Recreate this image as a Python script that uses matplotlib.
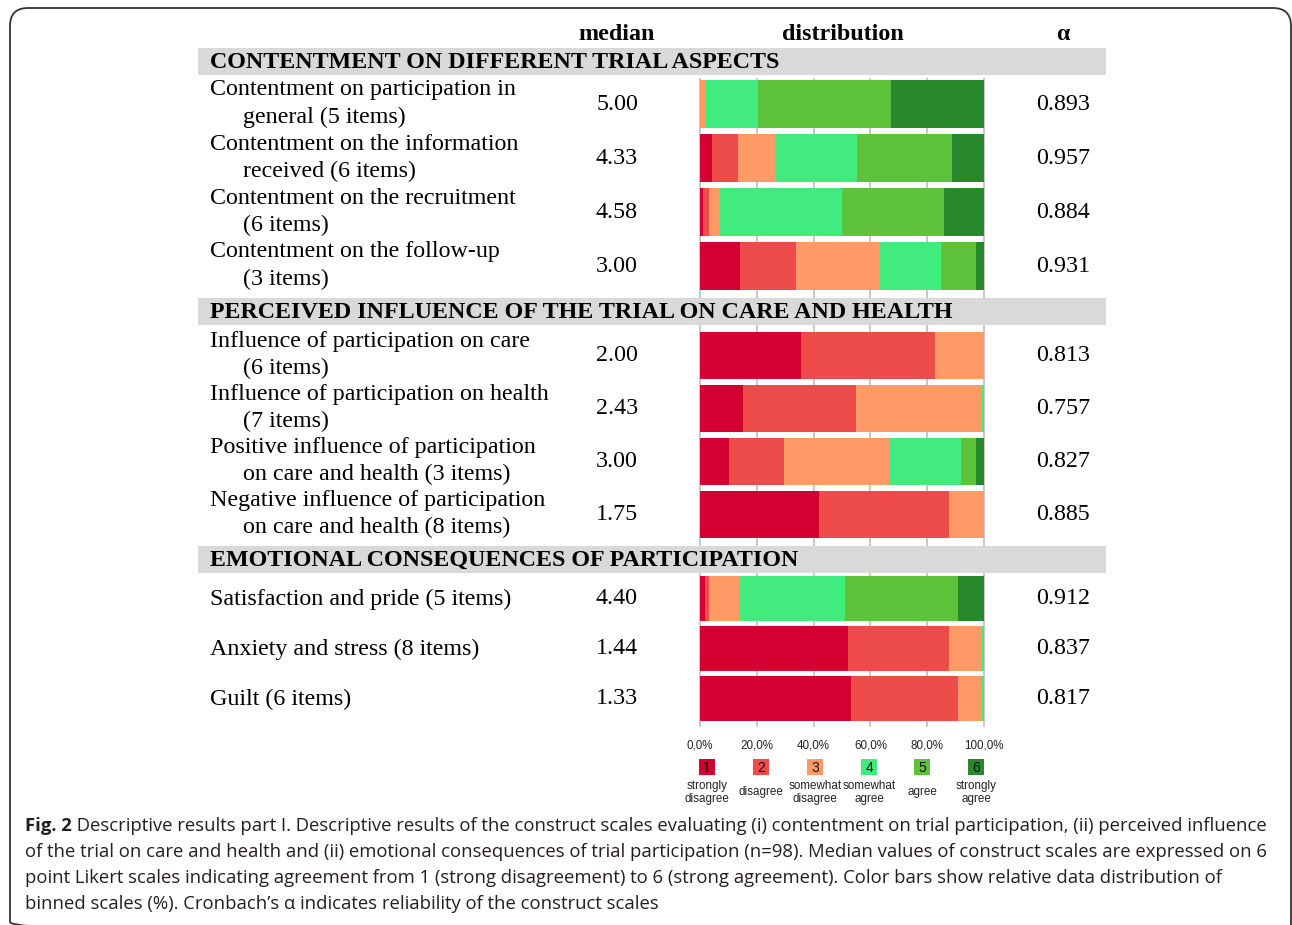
import matplotlib
matplotlib.use("Agg")
import matplotlib.pyplot as plt
from matplotlib.patches import FancyBboxPatch, Rectangle
from matplotlib.transforms import blended_transform_factory
import numpy as np

W, H = 1292, 925
DPI = 100

# ---------------- data ----------------
sections = ["CONTENTMENT ON DIFFERENT TRIAL ASPECTS",
            "PERCEIVED INFLUENCE OF THE TRIAL ON CARE AND HEALTH",
            "EMOTIONAL CONSEQUENCES OF PARTICIPATION"]
labels = [
    ("Contentment on participation in", "general (5 items)"),
    ("Contentment on the information", "received (6 items)"),
    ("Contentment on the recruitment", "(6 items)"),
    ("Contentment on the follow-up", "(3 items)"),
    ("Influence of participation on care", "(6 items)"),
    ("Influence of participation on health", "(7 items)"),
    ("Positive influence of participation", "on care and health (3 items)"),
    ("Negative influence of participation", "on care and health (8 items)"),
    ("Satisfaction and pride (5 items)", None),
    ("Anxiety and stress (8 items)", None),
    ("Guilt (6 items)", None),
]
medians = ["5.00", "4.33", "4.58", "3.00", "2.00", "2.43", "3.00", "1.75", "4.40", "1.44", "1.33"]
alphas = ["0.893", "0.957", "0.884", "0.931", "0.813", "0.757", "0.827", "0.885", "0.912", "0.837", "0.817"]

strongly_disagree = [0.0, 4.1, 0.9, 14.1, 35.7, 15.3, 10.2, 41.8, 1.9, 52.0, 53.1]
disagree          = [0.0, 9.2, 2.2, 19.6, 47.0, 39.7, 19.4, 46.0, 1.3, 35.8, 37.7]
somewhat_disagree = [2.0, 13.2, 3.9, 29.6, 17.3, 44.2, 36.8, 12.2, 11.0, 11.4, 8.4]
somewhat_agree    = [18.4, 28.7, 43.0, 21.6, 0.0, 0.8, 25.5, 0.0, 36.9, 0.8, 0.8]
agree             = [46.9, 33.6, 35.8, 12.2, 0.0, 0.0, 5.2, 0.0, 39.7, 0.0, 0.0]
strongly_agree    = [32.7, 11.2, 14.2, 2.9, 0.0, 0.0, 2.9, 0.0, 9.2, 0.0, 0.0]

levels = ["1", "2", "3", "4", "5", "6"]
level_names = ["strongly\ndisagree", "disagree", "somewhat\ndisagree",
               "somewhat\nagree", "agree", "strongly\nagree"]
xticks = [0, 20, 40, 60, 80, 100]
xtick_labels = ["0,0%", "20,0%", "40,0%", "60,0%", "80,0%", "100,0%"]

colors = ["#D50032", "#EE4B4B", "#FF9966", "#42EB7E", "#5EC23A", "#2A882C"]

# ---------------- layout (pixels) ----------------
row_y = [104, 158, 212, 266, 355.5, 408.5, 461.5, 514.5, 598, 648.5, 698.5]
row_h = [48, 48, 48, 48, 47, 47, 47, 47, 45, 45, 45]
band_y = [(48, 75), (298, 325), (546, 573)]
SERIF = "Liberation Serif"
FS = 17.3

fig = plt.figure(figsize=(W / DPI, H / DPI), dpi=DPI)
bg = fig.add_axes([0, 0, 1, 1])
bg.set_xlim(0, W)
bg.set_ylim(H, 0)
bg.axis("off")

# outer rounded border (bottom edge falls below the picture)
border = FancyBboxPatch((10, 8), 1281, 932, boxstyle="round,pad=0,rounding_size=18",
                        fc="none", ec="#333333", lw=1.3)
bg.add_patch(border)

# column headers
for txt, x in [("median", 617), ("distribution", 843), ("\u03b1", 1063)]:
    bg.text(x, 34, txt, ha="center", va="center", fontsize=FS, fontweight="bold",
            family=SERIF, color="black")

# section bands
for (y0, y1), s in zip(band_y, sections):
    bg.add_patch(Rectangle((198, y0), 1106 - 198, y1 - y0, fc="#D9D9D9", ec="none"))
    bg.text(210, (y0 + y1) / 2 + 1, s, ha="left", va="center", fontsize=FS,
            fontweight="bold", family=SERIF, color="black")

# row labels, medians, alphas
for i, (l1, l2) in enumerate(labels):
    c = row_y[i]
    if l2 is None:
        bg.text(210, c + 1, l1, ha="left", va="center", fontsize=FS, family=SERIF)
    else:
        bg.text(210, c - 14, l1, ha="left", va="center", fontsize=FS, family=SERIF)
        bg.text(243, c + 13, l2, ha="left", va="center", fontsize=FS, family=SERIF)
    bg.text(617, c, medians[i], ha="center", va="center", fontsize=FS, family=SERIF)
    bg.text(1063, c, alphas[i], ha="center", va="center", fontsize=FS, family=SERIF)

# ---------------- bars ----------------
bx = fig.add_axes([700 / W, 0, 284 / W, 1])
bx.set_xlim(0, 100)
bx.set_ylim(H, 0)
bx.axis("off")
bx.patch.set_alpha(0)

# gridlines drawn on the background axes (below the bars), x from bar scale
grid_tr = blended_transform_factory(bx.transData, bg.transData)
bg.vlines(xticks, 78, 727, colors="#C4C4C4", lw=1.3, transform=grid_tr, zorder=0)

data = np.array([strongly_disagree, disagree, somewhat_disagree,
                 somewhat_agree, agree, strongly_agree])
left = np.zeros(len(row_y))
for k in range(6):
    bx.barh(row_y, data[k], left=left, height=row_h, color=colors[k],
            edgecolor="none", zorder=3)
    left += data[k]

for x, t in zip(xticks, xtick_labels):
    bx.text(x, 746, t, ha="center", va="center", fontsize=8.4,
            family="Liberation Sans", color="#222222")

# legend
leg_x = [707, 761, 815, 869, 922, 976]
for x, lv, nm, col in zip(leg_x, levels, level_names, colors):
    bg.add_patch(Rectangle((x - 8, 759), 16, 16, fc=col, ec="none"))
    bg.text(x, 767.5, lv, ha="center", va="center", fontsize=10,
            family="Liberation Sans", color="#111111")
    bg.text(x, 792.5, nm, ha="center", va="center", fontsize=8.4,
            family="Liberation Sans", color="#222222", linespacing=1.15)

# caption
CAP = "Open Sans"
CFS = 13.3
cap_col = "#231F20"
lines = [
    " Descriptive results part I. Descriptive results of the construct scales evaluating (i) contentment on trial participation, (ii) perceived influence",
    "of the trial on care and health and (ii) emotional consequences of trial participation (n=98). Median values of construct scales are expressed on 6",
    "point Likert scales indicating agreement from 1 (strong disagreement) to 6 (strong agreement). Color bars show relative data distribution of",
    "binned scales (%). Cronbach\u2019s \u03b1 indicates reliability of the construct scales",
]
cap_y = [826, 852, 878, 904]
fb = bg.text(25, cap_y[0], "Fig. 2", ha="left", va="center", fontsize=CFS,
             fontweight="bold", family=CAP, color=cap_col)
fig.canvas.draw()
bb = fb.get_window_extent(renderer=fig.canvas.get_renderer())
x_after = bb.x1
bg.text(x_after, cap_y[0], lines[0], ha="left", va="center", fontsize=CFS,
        family=CAP, color=cap_col)
for ln, y in zip(lines[1:], cap_y[1:]):
    bg.text(25, y, ln, ha="left", va="center", fontsize=CFS, family=CAP, color=cap_col)

fig.savefig("out.png", dpi=DPI)
